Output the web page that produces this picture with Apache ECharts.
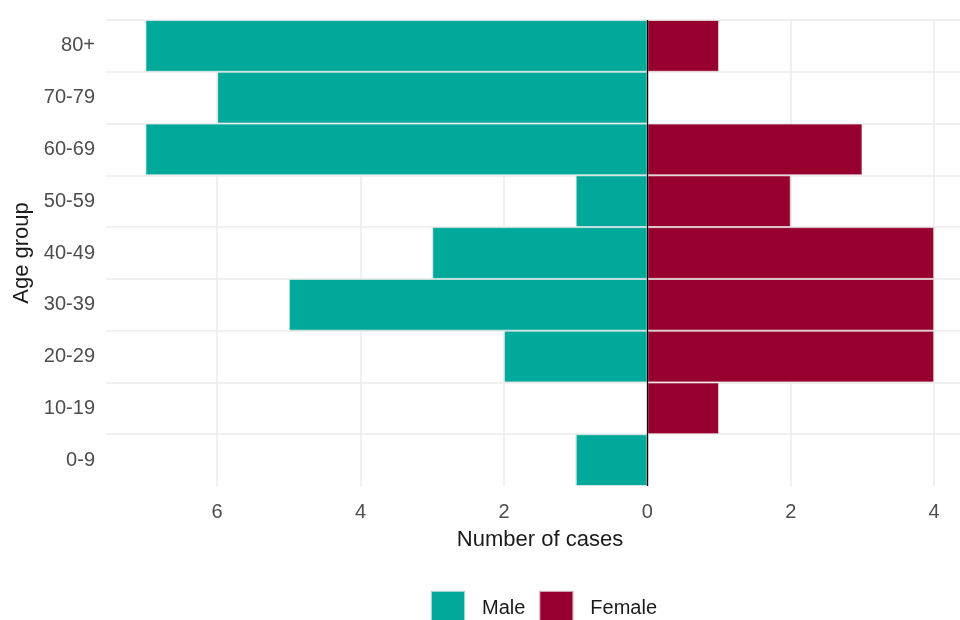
<!DOCTYPE html>
<html>
<head>
<meta charset="utf-8">
<script src="https://cdn.jsdelivr.net/npm/echarts@6/dist/echarts.min.js"></script>
<style>html,body{margin:0;padding:0;background:#fff;}#chart{width:960px;height:620px;}</style>
</head>
<body>
<div id="chart"></div>
<script>
const categories = ['0-9','10-19','20-29','30-39','40-49','50-59','60-69','70-79','80+'];
const maleCases = [1, 0, 2, 5, 3, 1, 7, 6, 7];
const femaleCases = [0, 1, 4, 4, 4, 2, 3, 0, 1];
const xTicks = [-6, -4, -2, 0, 2, 4];

const chart = echarts.init(document.getElementById('chart'), null, {renderer: 'canvas'});
const font = 'Liberation Sans, Arial, sans-serif';
chart.setOption({
  animation: false,
  textStyle: {fontFamily: font},
  grid: {left: 106, right: 0, top: 20, bottom: 134, containLabel: false},
  legend: {
    data: ['Male', 'Female'],
    top: 585, left: 425,
    itemWidth: 34, itemHeight: 34, itemGap: 13,
    icon: 'rect',
    textStyle: {fontSize: 20, color: '#1a1a1a', fontFamily: font, padding: [0, 0, 0, 12]}
  },
  xAxis: {
    type: 'value',
    min: -7.55, max: 4.36,
    name: 'Number of cases', nameLocation: 'middle', nameGap: 43,
    nameTextStyle: {fontSize: 22, color: '#1a1a1a', fontFamily: font, padding: [0, 0, 0, 14]},
    axisLine: {show: false},
    axisTick: {show: false, customValues: xTicks},
    axisLabel: {customValues: xTicks, formatter: v => String(Math.abs(v)), fontSize: 20, color: '#4d4d4d', margin: 16, fontFamily: font},
    splitLine: {show: true, lineStyle: {color: '#ebebeb', width: 1.5}}
  },
  yAxis: {
    type: 'category',
    data: categories,
    name: 'Age group', nameLocation: 'middle', nameGap: 71,
    nameTextStyle: {fontSize: 22, color: '#1a1a1a', fontFamily: font},
    axisLine: {show: false},
    axisTick: {show: false},
    axisLabel: {fontSize: 20, color: '#4d4d4d', margin: 11, fontFamily: font},
    splitLine: {show: true, interval: (idx) => idx !== 0, lineStyle: {color: '#ebebeb', width: 1.5}}
  },
  series: [
    {
      name: 'Male', type: 'bar', stack: 'total', barWidth: '100%',
      data: maleCases.map(v => -v),
      itemStyle: {color: '#00A99A', borderColor: 'rgba(235,235,235,0.7)', borderWidth: 1},
      markLine: {
        silent: true, symbol: 'none', label: {show: false},
        lineStyle: {color: '#000', width: 1.3, type: 'solid'},
        data: [{xAxis: 0}]
      }
    },
    {
      name: 'Female', type: 'bar', stack: 'total', barWidth: '100%',
      data: femaleCases,
      itemStyle: {color: '#97002E', borderColor: 'rgba(235,235,235,0.7)', borderWidth: 1}
    }
  ]
});
</script>
</body>
</html>
